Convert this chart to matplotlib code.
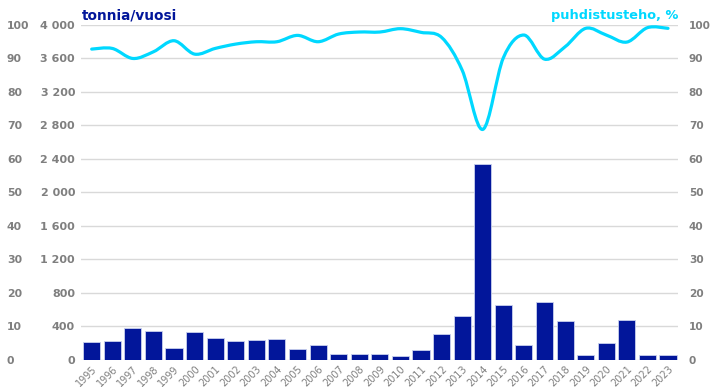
import numpy as np
import matplotlib
matplotlib.use('Agg')
from matplotlib import pyplot as plt
from matplotlib.path import Path
from matplotlib.patches import PathPatch
from matplotlib.ticker import FuncFormatter

years = list(range(1995, 2024))
tonnes = [212, 224, 375, 340, 144, 327, 260, 228, 240, 244,
          132, 176, 68, 64, 64, 48, 116, 307, 527, 2340,
          650, 180, 695, 463, 52, 196, 475, 60, 56]
efficiency = [92.8, 93.0, 90.0, 92.0, 95.3, 91.3, 93.0, 94.3, 95.0, 95.0,
              96.9, 95.0, 97.3, 97.9, 97.9, 98.9, 97.8, 96.3, 86.5, 68.8,
              90.2, 97.0, 89.8, 93.5, 99.0, 97.0, 94.9, 99.2, 99.0]

bar_color = '#02169A'
line_color = '#00D8FF'
tick_color = '#7F7F7F'
grid_color = '#D9D9D9'


def smooth_path(xs, ys):
    # cubic Bezier through the points, Catmull-Rom style control points
    pts = np.column_stack([xs, ys]).astype(float)
    verts = [pts[0]]
    codes = [Path.MOVETO]
    n = len(pts)
    for i in range(n - 1):
        p0 = pts[i - 1] if i > 0 else pts[i]
        p1 = pts[i]
        p2 = pts[i + 1]
        p3 = pts[i + 2] if i + 2 < n else pts[i + 1]
        c1 = p1 + (p2 - p0) / 6.0
        c2 = p2 - (p3 - p1) / 6.0
        verts += [c1, c2, p2]
        codes += [Path.CURVE4] * 3
    return Path(verts, codes)


fig = plt.figure(figsize=(7.1, 3.87), dpi=100)
ax = fig.add_axes([81.4 / 710, 1 - 359.7 / 387, (678.3 - 81.4) / 710, (359.7 - 25) / 387])

x = np.arange(len(years))
ax.bar(x, tonnes, width=0.83, color=bar_color, edgecolor='#C9D1EE', linewidth=0.6, zorder=3)
ax.set_xlim(-0.5, len(years) - 0.5)
ax.set_ylim(0, 4000)
ax.set_yticks(range(0, 4001, 400))
ax.yaxis.set_major_formatter(FuncFormatter(lambda v, p: f'{int(v):,}'.replace(',', ' ')))
ax.grid(axis='y', color=grid_color, linewidth=1, zorder=0)
ax.set_axisbelow(True)
ax.set_xticks(x)
ax.set_xticklabels(years, rotation=45, ha='right', rotation_mode='anchor', fontsize=7, color=tick_color)
ax.tick_params(axis='x', length=0, pad=3)
ax.tick_params(axis='y', length=0, pad=4.6, labelsize=8, labelcolor=tick_color)
for lab in ax.get_yticklabels():
    lab.set_fontweight('bold')
for s in ax.spines.values():
    s.set_visible(False)

# percentage axis on the right, carries the smoothed line
ax2 = ax.twinx()
ax2.set_ylim(0, 100)
ax2.set_yticks(range(0, 101, 10))
ax2.tick_params(axis='y', length=0, pad=7.6, labelsize=7.6, labelcolor=tick_color)
for lab in ax2.get_yticklabels():
    lab.set_fontweight('bold')
for s in ax2.spines.values():
    s.set_visible(False)
ax2.add_patch(PathPatch(smooth_path(x, efficiency), facecolor='none', edgecolor=line_color,
                        linewidth=2.3, capstyle='round', joinstyle='round', zorder=4))

# same percentage scale repeated at the far left
ax3 = ax.twinx()
ax3.set_ylim(0, 100)
ax3.set_yticks(range(0, 101, 10))
ax3.yaxis.set_ticks_position('left')
ax3.tick_params(axis='y', length=0, pad=53.6, labelsize=7.8, labelcolor=tick_color)
for lab in ax3.get_yticklabels():
    lab.set_fontweight('bold')
    lab.set_horizontalalignment('left')
for s in ax3.spines.values():
    s.set_visible(False)

ax.text(0, 1.008, 'tonnia/vuosi', transform=ax.transAxes, fontsize=9.8, fontweight='bold',
        color=bar_color, ha='left', va='bottom')
ax.text(1, 1.008, 'puhdistusteho, %', transform=ax.transAxes, fontsize=9.3, fontweight='bold',
        color=line_color, ha='right', va='bottom')

fig.savefig('out.png', dpi=100)
